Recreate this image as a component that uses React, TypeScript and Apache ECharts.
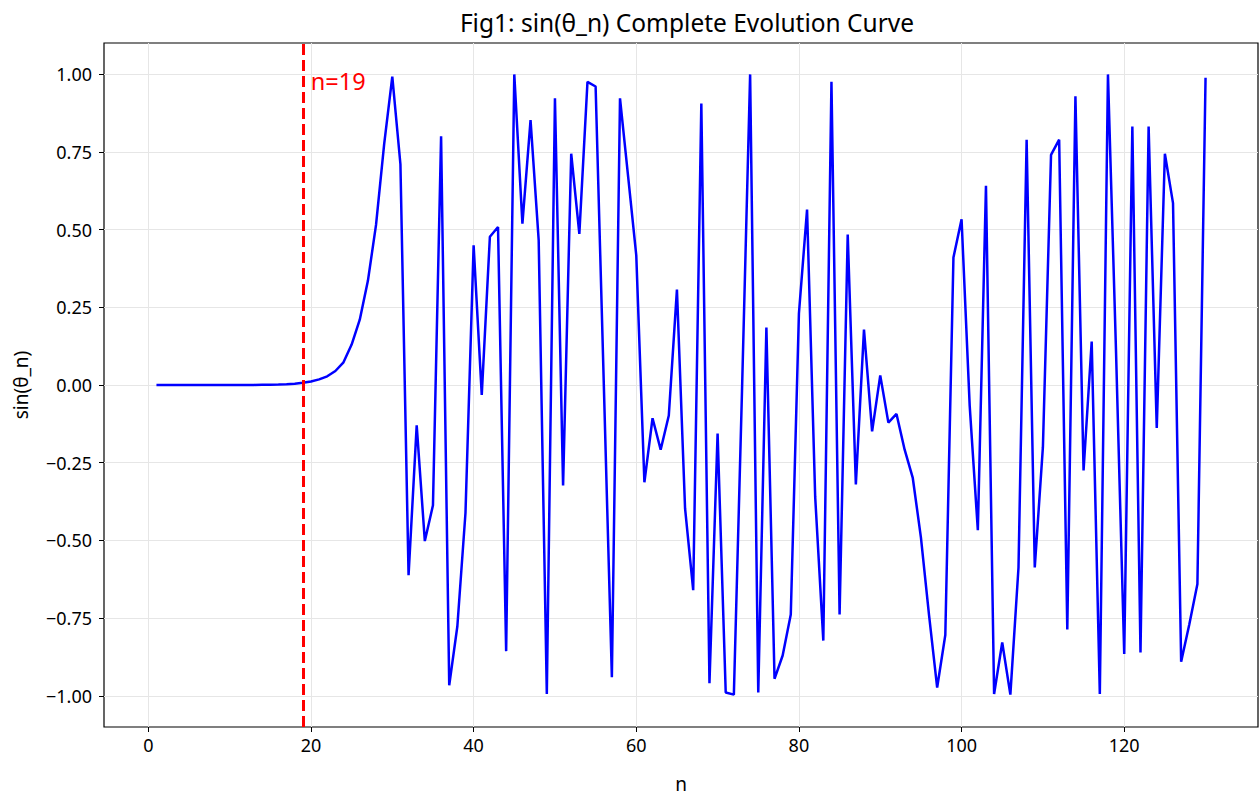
import React, { useEffect, useRef } from "react";
import * as echarts from "echarts";

const nValues: number[] = Array.from({ length: 130 }, (_, i) => i + 1);

const sinTheta: number[] = [
  0, 0, 0, 0, 0, 0, 0, 0, 0, 0.0001,
  0.0002, 0.0003, 0.0004, 0.0007, 0.001, 0.0017, 0.0027, 0.0043, 0.007, 0.011,
  0.018, 0.028, 0.045, 0.073, 0.13, 0.21, 0.335, 0.515, 0.775, 0.992,
  0.71, -0.612, -0.13, -0.502, -0.387, 0.8, -0.966, -0.776, -0.411, 0.449,
  -0.032, 0.477, 0.508, -0.856, 0.999, 0.519, 0.852, 0.466, -0.994, 0.922,
  -0.323, 0.744, 0.486, 0.975, 0.96, 0.01, -0.94, 0.922, 0.67, 0.417,
  -0.313, -0.107, -0.208, -0.098, 0.307, -0.397, -0.66, 0.905, -0.959, -0.156,
  -0.989, -0.996, -0.02, 0.999, -0.989, 0.185, -0.945, -0.87, -0.738, 0.23,
  0.564, -0.36, -0.822, 0.975, -0.738, 0.484, -0.32, 0.178, -0.149, 0.031,
  -0.121, -0.093, -0.208, -0.299, -0.49, -0.74, -0.973, -0.804, 0.41, 0.533,
  -0.067, -0.467, 0.641, -0.994, -0.828, -0.996, -0.587, 0.789, -0.587, -0.2,
  0.74, 0.789, -0.786, 0.929, -0.275, 0.14, -0.994, 0.999, 0.1, -0.865,
  0.831, -0.86, 0.831, -0.138, 0.744, 0.585, -0.89, -0.77, -0.64, 0.988,
];

const xTicks: number[] = [0, 20, 40, 60, 80, 100, 120];
const yTicks: number[] = [-1, -0.75, -0.5, -0.25, 0, 0.25, 0.5, 0.75, 1];
const markerN = 19;
const markerText = "n=19";
const titleText = "Fig1: sin(θ_n) Complete Evolution Curve";
const xName = "n";
const yName = "sin(θ_n)";

const FONT = "Noto Sans";

export default function App() {
  const ref = useRef<HTMLDivElement>(null);
  useEffect(() => {
    if (!ref.current) return;
    const chart = echarts.init(ref.current, undefined, { renderer: "svg" });
    const data = nValues.map((n, i) => [n, sinTheta[i]]);
    const grid = "#e6e6e6";
    chart.setOption({
      animation: false,
      backgroundColor: "#fff",
      textStyle: { fontFamily: FONT },
      title: {
        text: titleText,
        left: 682,
        top: 5,
        textAlign: "center",
        textStyle: { fontFamily: FONT, fontSize: 24.5, fontWeight: "normal", color: "#000" },
      },
      grid: {
        left: 104,
        right: 1,
        top: 43,
        bottom: 64,
        show: true,
        borderColor: "#000",
        borderWidth: 1.2,
        backgroundColor: "transparent",
      },
      xAxis: {
        type: "value",
        min: -5.45,
        max: 136.45,
        name: xName,
        nameLocation: "middle",
        nameGap: 47,
        nameTextStyle: { fontFamily: FONT, fontSize: 19, color: "#000" },
        axisLine: { show: false, onZero: false },
        axisTick: {
          show: true,
          length: 5,
          lineStyle: { color: "#000", width: 1 },
          customValues: xTicks,
        },
        axisLabel: {
          customValues: xTicks,
          fontFamily: FONT,
          fontSize: 18,
          color: "#000",
          margin: 9,
        },
        splitLine: { show: true, lineStyle: { color: grid, width: 1 } },
      },
      yAxis: {
        type: "value",
        min: -1.1,
        max: 1.1,
        name: yName,
        nameLocation: "middle",
        nameGap: 74,
        nameTextStyle: { fontFamily: FONT, fontSize: 19, color: "#000" },
        axisLine: { show: false, onZero: false },
        axisTick: {
          show: true,
          length: 5,
          lineStyle: { color: "#000", width: 1 },
          customValues: yTicks,
        },
        axisLabel: {
          customValues: yTicks,
          fontFamily: FONT,
          fontSize: 18,
          color: "#000",
          margin: 12,
          formatter: (v: number) => v.toFixed(2).replace("-", "\u2212"),
        },
        splitLine: { show: true, lineStyle: { color: grid, width: 1 } },
      },
      series: [
        {
          type: "line",
          data,
          showSymbol: false,
          symbol: "none",
          lineStyle: { color: "#0000ff", width: 2.5 },
          z: 3,
          markLine: {
            silent: true,
            symbol: "none",
            label: { show: false },
            lineStyle: { color: "#ff0000", type: [11, 5], width: 3 },
            data: [{ xAxis: markerN }],
            z: 4,
          },
          markPoint: {
            silent: true,
            symbol: "circle",
            symbolSize: 0,
            data: [
              {
                coord: [markerN, 0.978],
                label: {
                  show: true,
                  formatter: markerText,
                  position: "right",
                  distance: 8,
                  color: "#ff0000",
                  fontFamily: FONT,
                  fontSize: 23.5,
                },
              },
            ],
          },
        },
      ],
    });
    return () => chart.dispose();
  }, []);
  return (
    <div
      ref={ref}
      style={{ position: "absolute", left: 0, top: 0, width: 1259, height: 798 }}
    />
  );
}
